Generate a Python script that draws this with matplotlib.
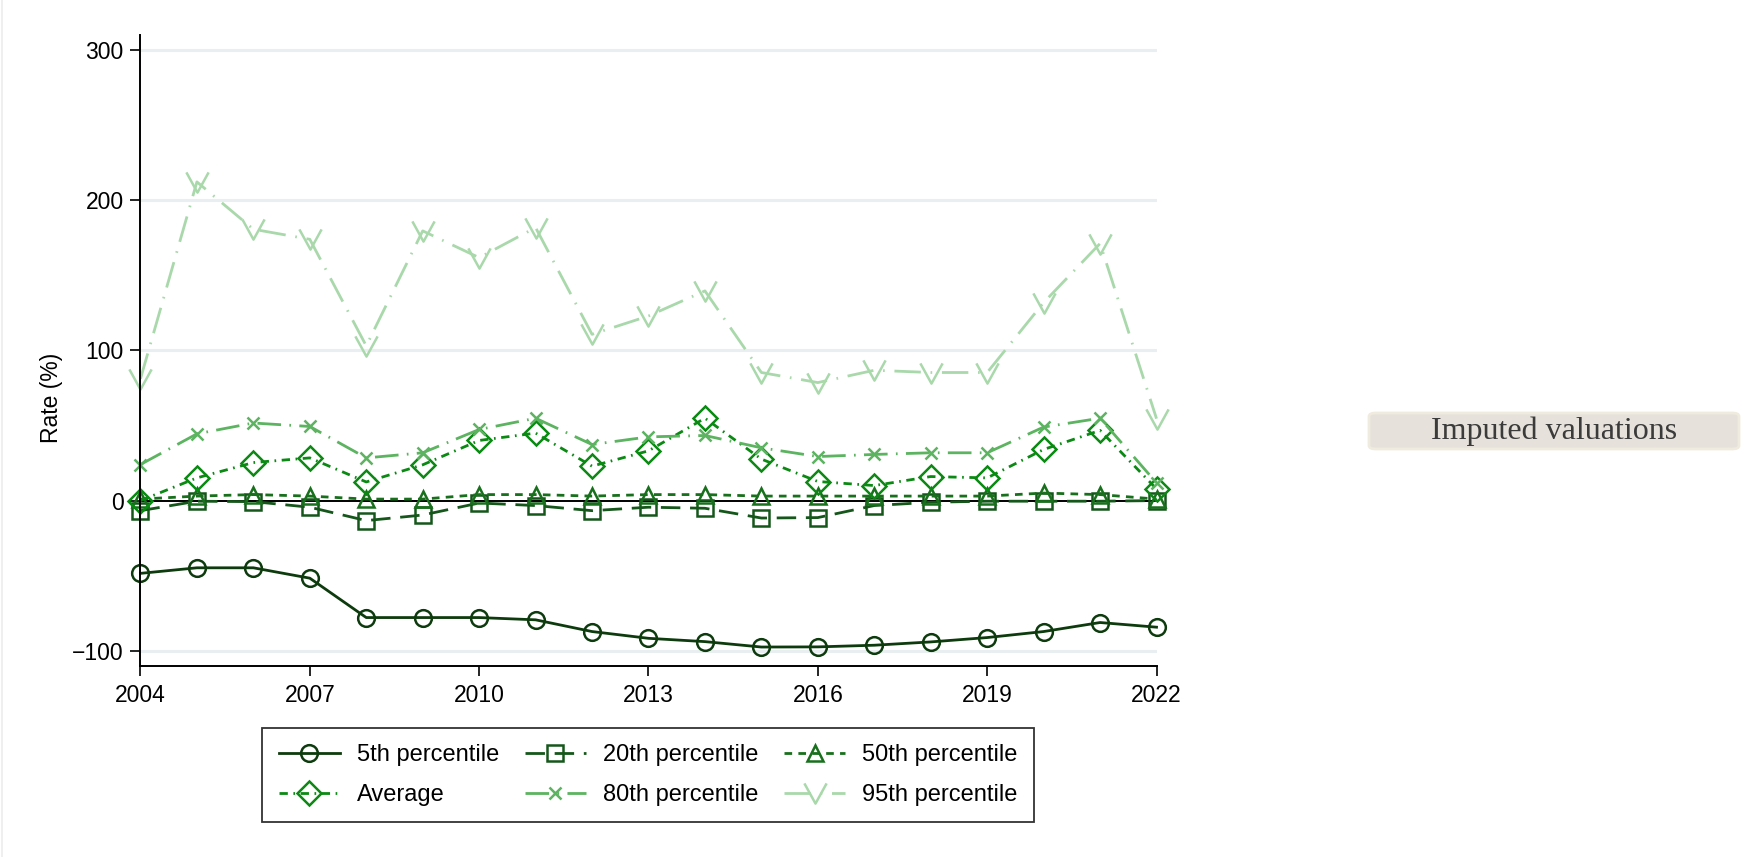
import matplotlib
matplotlib.use("Agg")
import matplotlib.pyplot as plt
from matplotlib.path import Path
from matplotlib.patches import FancyBboxPatch
from matplotlib.lines import Line2D

plt.rcParams['font.family'] = ['Liberation Sans', 'DejaVu Sans']
plt.rcParams['lines.scale_dashes'] = False

years = list(range(2004, 2023))

p5 = [-48.4, -44.7, -44.7, -51.6, -77.8, -77.8, -77.8, -79.3, -87.1, -91.6,
      -93.8, -97.4, -97.3, -96.2, -94.0, -91.1, -87.1, -81.1, -84.2]
p20 = [-6.7, -0.4, -0.7, -4.4, -13.3, -9.6, -1.6, -3.3, -6.7, -4.4,
       -5.1, -11.6, -11.3, -3.3, -1.1, -0.4, -0.4, -0.4, 0.0]
p50 = [1.0, 3.0, 4.0, 3.0, 1.0, 1.0, 4.0, 4.0, 3.0, 4.0,
       4.0, 3.0, 3.0, 3.0, 3.0, 3.0, 5.0, 4.0, 1.0]
average = [0.0, 15.1, 25.3, 28.4, 12.4, 23.8, 40.0, 44.9, 22.9, 33.1,
           54.8, 27.6, 12.7, 10.0, 16.0, 15.1, 34.0, 46.7, 7.8]
p80 = [24.0, 44.4, 51.6, 49.3, 28.4, 31.8, 47.3, 54.8, 37.3, 42.4,
       43.3, 35.1, 29.3, 30.7, 31.8, 31.8, 48.9, 54.8, 11.8]
p95 = [81.0, 212.0, 180.5, 173.8, 102.9, 179.4, 161.6, 181.6, 110.6, 122.8,
       139.5, 85.2, 78.5, 86.7, 85.2, 85.2, 131.7, 171.0, 54.5]

labels = ['5th percentile', '20th percentile', '50th percentile',
          'Average', '80th percentile', '95th percentile']
y_ticks = [-100, 0, 100, 200, 300]
x_ticks = [2004, 2007, 2010, 2013, 2016, 2019, 2022]

# open "V" glyph marker
v_marker = Path([(-0.55, 0.5), (0.0, -0.5), (0.55, 0.5)],
                [Path.MOVETO, Path.LINETO, Path.LINETO])

styles = [
    dict(color='#0d3b0d', marker='o', ls='-', dashes=None),
    dict(color='#15561a', marker='s', ls='--', dashes=(14, 7)),
    dict(color='#18701c', marker='^', ls='--', dashes=(5.5, 4.5)),
    dict(color='#0a8a12', marker='D', ls='-.', dashes=(6, 4, 1.2, 4)),
    dict(color='#5cb360', marker='x', ls='-.', dashes=(17, 6, 1.2, 6)),
    dict(color='#a9d8ab', marker=v_marker, ls='-.', dashes=(19, 7, 1.2, 7)),
]
msizes = [12, 11, 11.5, 12, 9, 16]

fig = plt.figure(figsize=(17.47, 8.57), dpi=100)
ax = fig.add_axes([0.0804, 0.2229, 0.5816, 0.7368])

for yv in [-100, 100, 200, 300]:
    ax.axhline(yv, color='#e9eff1', lw=2.2, zorder=0)
ax.axhline(0, color='black', lw=1.4, zorder=1)

series = [p5, p20, p50, average, p80, p95]
handles = []
for vals, st, ms, lab in zip(series, styles, msizes, labels):
    line, = ax.plot(years, vals, color=st['color'], lw=2.0, ls=st['ls'],
                    marker=st['marker'], markersize=ms, markerfacecolor='none',
                    markeredgecolor=st['color'], markeredgewidth=1.8,
                    label=lab, zorder=2, clip_on=False)
    if st['dashes'] is not None:
        line.set_dashes(st['dashes'])
    handles.append(line)

ax.set_xlim(2004, 2022)
ax.set_ylim(-110, 310)
ax.set_xticks(x_ticks)
ax.set_yticks(y_ticks)
ax.tick_params(axis='both', labelsize=16.5, length=7, width=1.2, color='black')
ax.tick_params(axis='y', pad=5)
ax.tick_params(axis='x', pad=6)
for s in ['top', 'right']:
    ax.spines[s].set_visible(False)
for s in ['left', 'bottom']:
    ax.spines[s].set_linewidth(1.4)
ax.set_ylabel('Rate (%)', fontsize=16.5)
ax.yaxis.set_label_coords(-0.076, 0.424)

order = [0, 3, 1, 4, 2, 5]
leg = fig.legend([handles[i] for i in order], [labels[i] for i in order],
                 ncol=3, loc='center', bbox_to_anchor=(648 / 1747, 1 - 775 / 857),
                 fontsize=17, frameon=True, fancybox=False, edgecolor='black',
                 handlelength=2.6, handletextpad=0.7, columnspacing=1.1,
                 labelspacing=0.75, borderpad=0.7, borderaxespad=0)
leg.get_frame().set_linewidth(1.3)

# side label box
box = FancyBboxPatch((1369 / 1747, 1 - 449 / 857), 370 / 1747, 36 / 857,
                     boxstyle='round,pad=0,rounding_size=0.004',
                     transform=fig.transFigure, facecolor='#e6e2db',
                     edgecolor='#f0ebdf', lw=2)
fig.patches.append(box)
fig.text(1554 / 1747, 1 - 431 / 857, 'Imputed valuations',
         family=['Liberation Serif', 'DejaVu Serif'], fontsize=23,
         color='#3b3b3b', ha='center', va='center')

fig.add_artist(Line2D([2 / 1747, 2 / 1747], [0, 1], transform=fig.transFigure,
                      color='#ececec', lw=1.2))

fig.savefig('out.png', dpi=100)
